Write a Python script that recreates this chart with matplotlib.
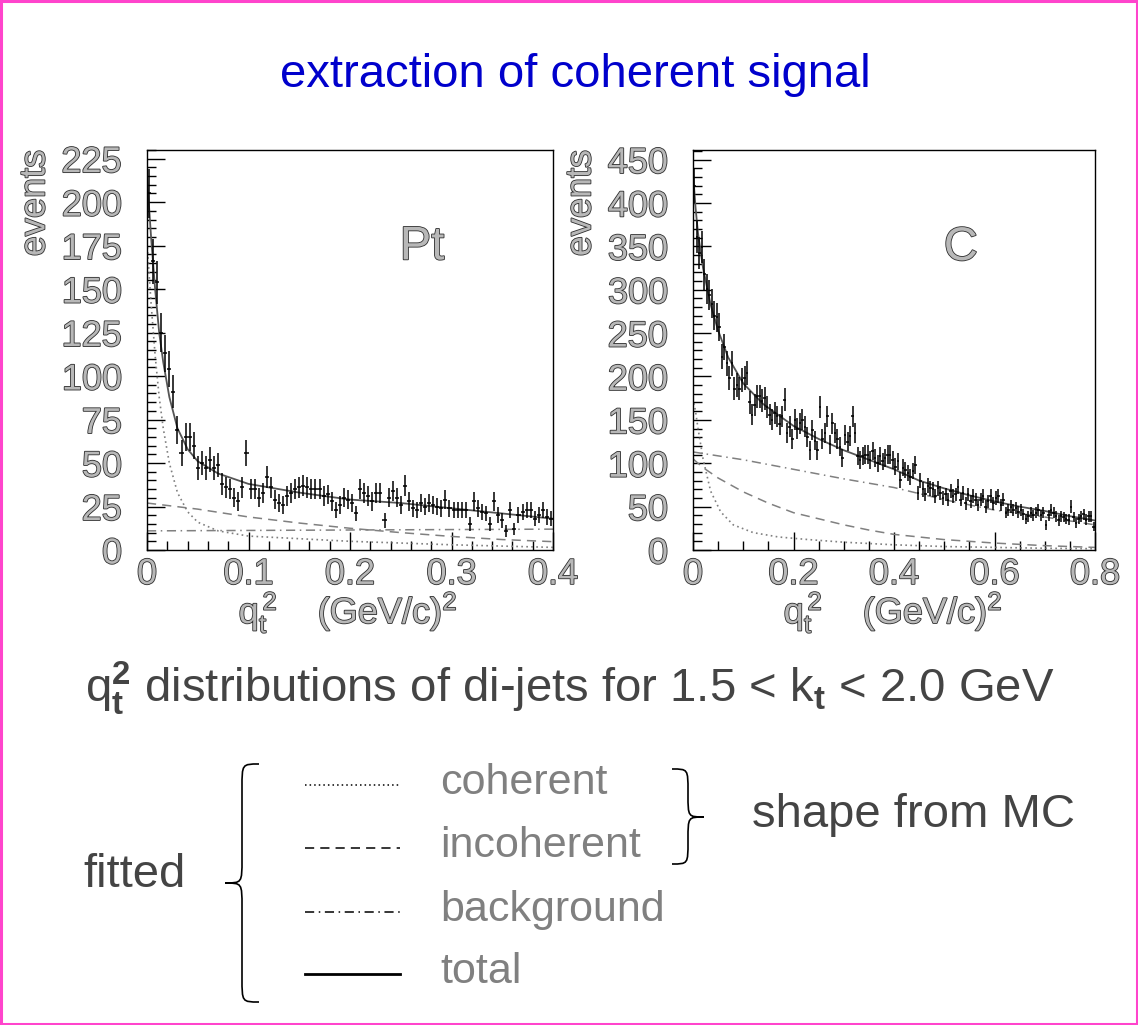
import matplotlib
matplotlib.use("Agg")
import matplotlib.pyplot as plt
import matplotlib.patheffects as pe
from matplotlib.path import Path
from matplotlib.patches import PathPatch, Rectangle
from matplotlib.ticker import MultipleLocator, FuncFormatter
import numpy as np

plt.rcParams['font.family'] = ['Liberation Sans', 'DejaVu Sans']
plt.rcParams['mathtext.fontset'] = 'custom'
plt.rcParams['mathtext.rm'] = 'Liberation Sans'
plt.rcParams['mathtext.it'] = 'Liberation Sans'
plt.rcParams['mathtext.bf'] = 'Liberation Sans:bold'

# ---- Pt target: q_t^2 histogram (0 - 0.4, 100 bins) ----
pt_range = (0.0, 0.4)
pt_counts = [205, 166, 154, 125, 113, 104, 91, 69, 56, 65,
             65, 60, 47, 50, 47, 52, 47, 49, 38, 36,
             35, 30, 28, 36, 56, 35, 35, 30, 33, 42,
             36, 29, 27, 26, 31, 33, 35, 36, 37, 36,
             35, 35, 35, 31, 32, 28, 23, 26, 30, 29,
             27, 21, 35, 33, 31, 28, 33, 33, 17, 30,
             34, 30, 26, 37, 28, 24, 23, 27, 25, 27,
             26, 25, 24, 29, 24, 23, 23, 23, 23, 15,
             28, 24, 22, 21, 15, 28, 20, 17, 11, 23,
             12, 20, 22, 23, 23, 18, 20, 23, 19, 18]

pt_coh_x = [0.0, 0.004, 0.008, 0.012, 0.016, 0.022, 0.03, 0.04, 0.05, 0.07, 0.1, 0.15, 0.2, 0.3, 0.4]
pt_coh_y = [177, 142, 112, 88, 70, 50, 33, 22, 16, 11, 8, 6.5, 5, 3, 1.5]
pt_inc_x = [0.0, 0.05, 0.1, 0.15, 0.2, 0.25, 0.3, 0.35, 0.4]
pt_inc_y = [27, 23.5, 19, 15.5, 12.5, 10, 7.8, 6, 4.8]
pt_bkg_x = [0.0, 0.2, 0.4]
pt_bkg_y = [11, 11.5, 12]
pt_tot_x = [0.0, 0.004, 0.008, 0.012, 0.016, 0.022, 0.03, 0.04, 0.05, 0.07,
            0.1, 0.15, 0.2, 0.25, 0.3, 0.35, 0.4]
pt_tot_y = [215, 180, 150, 125, 108, 88, 70, 58, 51, 44, 38, 33, 29, 27, 24, 21, 18]

# ---- C target: q_t^2 histogram (0 - 0.8, 160 bins) ----
c_range = (0.0, 0.8)
c_counts = [420, 361, 342, 349, 318, 301, 294, 284, 270, 268,
            257, 223, 234, 215, 198, 215, 186, 190, 186, 196,
            198, 204, 170, 156, 167, 177, 177, 172, 175, 165,
            156, 150, 158, 154, 145, 154, 173, 135, 142, 128,
            150, 140, 146, 150, 142, 130, 115, 138, 126, 115,
            165, 128, 135, 154, 122, 146, 135, 128, 119, 106,
            133, 125, 131, 154, 135, 108, 104, 108, 110, 110,
            104, 114, 106, 100, 108, 102, 106, 110, 110, 104,
            96, 102, 81, 95, 92, 89, 84, 91, 98, 66,
            80, 70, 64, 74, 71, 70, 62, 71, 66, 60,
            64, 58, 68, 62, 64, 73, 58, 66, 54, 64,
            56, 62, 58, 52, 58, 62, 50, 56, 62, 54,
            60, 62, 52, 58, 43, 46, 50, 46, 48, 44,
            46, 41, 36, 39, 43, 40, 43, 46, 40, 43,
            29, 40, 46, 43, 39, 34, 39, 38, 36, 35,
            50, 38, 31, 36, 39, 41, 35, 39, 39, 27]

c_coh_x = [0.0, 0.005, 0.01, 0.02, 0.035, 0.055, 0.08, 0.12, 0.17, 0.23, 0.3, 0.4, 0.5, 0.6, 0.7, 0.8]
c_coh_y = [175, 160, 140, 105, 68, 44, 29, 20, 15, 12, 9, 6, 4, 3, 2, 1.5]
c_inc_x = [0.0, 0.02, 0.05, 0.1, 0.15, 0.2, 0.25, 0.3, 0.35, 0.4, 0.5, 0.6, 0.7, 0.8]
c_inc_y = [105, 95, 83, 67, 54, 43, 36, 29, 23, 18, 12, 8, 5, 3]
c_bkg_x = [0.0, 0.1, 0.2, 0.3, 0.4, 0.5, 0.6, 0.7, 0.8]
c_bkg_y = [113, 104, 93, 82, 72, 58, 46, 38, 29]
c_tot_x = [0.0, 0.005, 0.01, 0.02, 0.035, 0.05, 0.07, 0.1, 0.14, 0.2, 0.25,
           0.3, 0.35, 0.4, 0.45, 0.5, 0.55, 0.6, 0.65, 0.7, 0.75, 0.8]
c_tot_y = [435, 395, 365, 325, 283, 253, 222, 192, 168, 143, 128,
           115, 104, 93, 80, 71, 63, 56, 50, 45, 39, 34]

legend_names = ['coherent', 'incoherent', 'background', 'total']

W, H = 1138, 1025
fig = plt.figure(figsize=(W / 100, H / 100), dpi=100)

# full-figure overlay in pixel units for the free text, braces and border
ov = fig.add_axes([0, 0, 1, 1])
ov.set_xlim(0, W)
ov.set_ylim(H, 0)
ov.axis('off')

OUTLINE = [pe.withStroke(linewidth=1.2, foreground='#2e2e2e')]
HOLLOW = '#b8b8b8'
CURVE = '#808080'

line_styles = {
    'coherent': dict(ls=(0, (1, 2)), lw=1.2),
    'incoherent': dict(ls=(0, (6, 4)), lw=1.1),
    'background': dict(ls=(0, (6, 3, 1, 3)), lw=1.1),
    'total': dict(ls='-', lw=1.3),
}


def add_panel(left, right, xr, ymax, counts, curves, xmaj, xmin, ymaj, ymin, name, name_xy):
    top, bottom = 150, 550
    ax = fig.add_axes([left / W, 1 - bottom / H, (right - left) / W, (bottom - top) / H])
    edges = np.linspace(xr[0], xr[1], len(counts) + 1)
    centres = 0.5 * (edges[1:] + edges[:-1])
    counts = np.asarray(counts, dtype=float)
    ax.errorbar(centres, counts, xerr=0.5 * (edges[1] - edges[0]), yerr=np.sqrt(counts),
                fmt='none', ecolor='black', elinewidth=1.1, capsize=0, zorder=3)
    for key, (cx, cy) in curves.items():
        st = line_styles[key]
        col = '#555555' if key == 'total' else CURVE
        ax.plot(cx, cy, color=col, linestyle=st['ls'], lw=st['lw'], zorder=2)
    ax.set_xlim(*xr)
    ax.set_ylim(0, ymax)
    ax.xaxis.set_major_locator(MultipleLocator(xmaj))
    ax.xaxis.set_minor_locator(MultipleLocator(xmin))
    ax.yaxis.set_major_locator(MultipleLocator(ymaj))
    ax.yaxis.set_minor_locator(MultipleLocator(ymin))
    ax.xaxis.set_major_formatter(FuncFormatter(lambda v, _: '0' if abs(v) < 1e-9 else f'{v:g}'))
    ax.tick_params(which='both', direction='in', top=False, right=False, width=1.0, colors='black')
    ax.tick_params(which='major', length=13)
    ax.tick_params(which='minor', length=6.5)
    ax.tick_params(axis='x', which='major', pad=5, labelsize=26)
    ax.tick_params(axis='y', which='major', pad=18, labelsize=26)
    for s in ax.spines.values():
        s.set_linewidth(1.0)
    fig.canvas.draw()
    for lbl in ax.get_xticklabels() + ax.get_yticklabels():
        lbl.set_color(HOLLOW)
        lbl.set_path_effects(OUTLINE)
    ax.text(name_xy[0], name_xy[1], name, fontsize=34, ha='center', va='center',
            color=HOLLOW, path_effects=OUTLINE)
    return ax


add_panel(147, 553, pt_range, 230, pt_counts,
          {'background': (pt_bkg_x, pt_bkg_y), 'incoherent': (pt_inc_x, pt_inc_y),
           'coherent': (pt_coh_x, pt_coh_y), 'total': (pt_tot_x, pt_tot_y)},
          0.1, 0.02, 25, 5, 'Pt', (0.271, 174))
add_panel(693, 1095, c_range, 461, c_counts,
          {'background': (c_bkg_x, c_bkg_y), 'incoherent': (c_inc_x, c_inc_y),
           'coherent': (c_coh_x, c_coh_y), 'total': (c_tot_x, c_tot_y)},
          0.2, 0.05, 50, 10, 'C', (0.533, 348))

# axis titles of both panels
xlab = r'$\mathregular{q_t^{\,2}}$    (GeV/c)$^{\mathregular{2}}$'
for xc, ex in [(348, 35), (893, 581)]:
    ov.text(xc, 612, xlab, fontsize=26, ha='center', va='center', color=HOLLOW, path_effects=OUTLINE)
    ov.text(ex, 150, 'events', fontsize=26, rotation=90, ha='center', va='top',
            color=HOLLOW, path_effects=OUTLINE)

ov.text(575, 75, 'extraction of coherent signal', fontsize=34, color='#0000cc',
        ha='center', va='center')
ov.text(570, 688, r'$\mathregular{q_{\mathbf{t}}^{\mathbf{2}}}$ distributions of di-jets for 1.5 < k$_{\mathbf{t}}$ < 2.0 GeV',
        fontsize=34, color='#444444', ha='center', va='center')

# key for the fitted components
key_y = [785, 848, 912, 974]
for nm, yy in zip(legend_names, key_y):
    st = line_styles[nm]
    lw = 2.0 if nm == 'total' else 1.1
    ov.plot([305, 400], [yy, yy], color='black', linestyle=st['ls'], lw=lw)
    ov.text(440, yy - 2, nm, fontsize=31, color='#808080', ha='left', va='center')

ov.text(83, 875, 'fitted', fontsize=34, color='#444444', ha='left', va='center')
ov.text(752, 815, 'shape from MC', fontsize=34, color='#444444', ha='left', va='center')


def curly_brace(x_end, x_tip, y_top, y_bot, y_tip):
    xm = 0.5 * (x_end + x_tip)
    r = 0.7 * abs(x_end - x_tip)
    verts = [(x_end, y_top), (xm, y_top), (xm, y_top), (xm, y_top + r),
             (xm, y_tip - r),
             (xm, y_tip), (xm, y_tip), (x_tip, y_tip),
             (xm, y_tip), (xm, y_tip), (xm, y_tip + r),
             (xm, y_bot - r),
             (xm, y_bot), (xm, y_bot), (x_end, y_bot)]
    codes = [Path.MOVETO, Path.CURVE4, Path.CURVE4, Path.CURVE4,
             Path.LINETO,
             Path.CURVE4, Path.CURVE4, Path.CURVE4,
             Path.CURVE4, Path.CURVE4, Path.CURVE4,
             Path.LINETO,
             Path.CURVE4, Path.CURVE4, Path.CURVE4]
    return PathPatch(Path(verts, codes), facecolor='none', edgecolor='black', lw=1.2)


ov.add_patch(curly_brace(259, 225, 764, 1002, 883))
ov.add_patch(curly_brace(672, 704, 769, 864, 817))

# page frame
ov.add_patch(Rectangle((1, 1), W - 2, H - 2, facecolor='none', edgecolor='#ff44cc', lw=2.2))

fig.savefig('out.png', dpi=100)
